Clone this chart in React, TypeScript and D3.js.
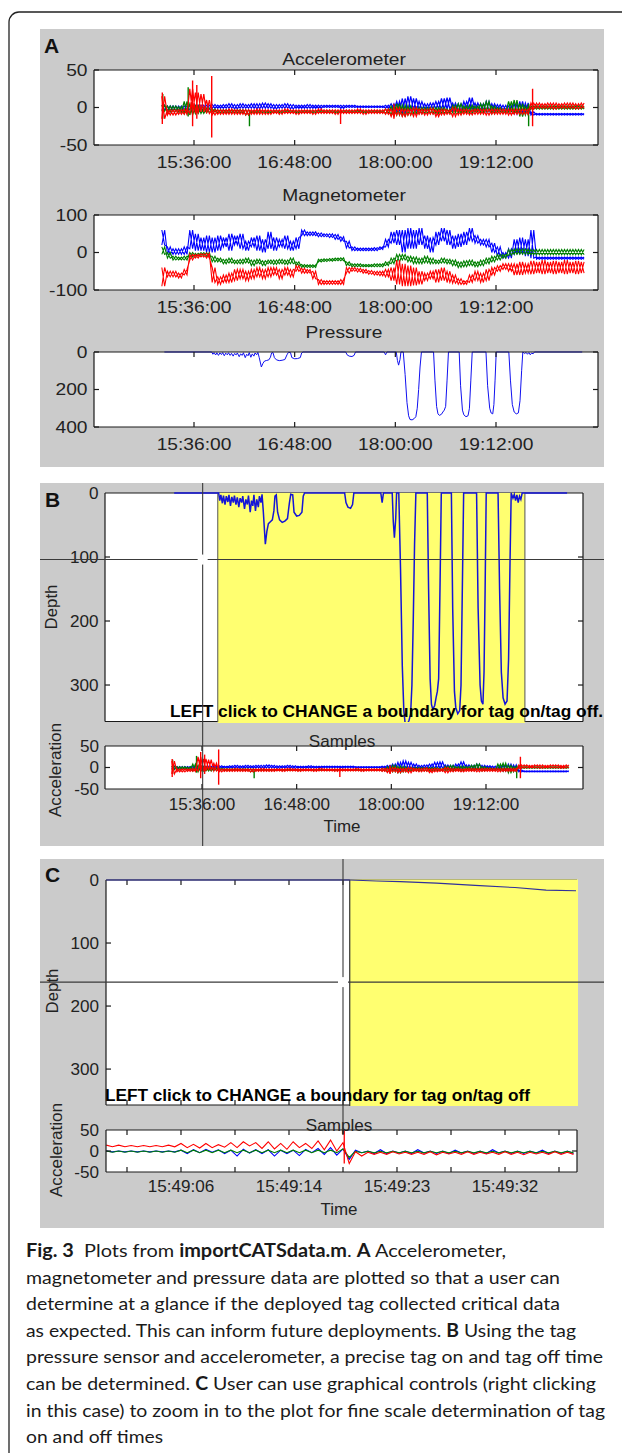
import React from "react";
import * as d3 from "d3";

const ARIAL = "'Liberation Sans', Arial, Helvetica, sans-serif";
const parseT = (s: string) => +(d3.timeParse(s.length > 5 ? "%H:%M:%S" : "%H:%M")(s) as Date);

// ---------- Panel A / B time axis ----------
const timeTickLabels = ["15:36:00", "16:48:00", "18:00:00", "19:12:00"];

// envelope grid (accelerometer + magnetometer), one sample every 4 min from 15:13
const envStart = "15:13";
const envStepMin = 4;

// Accelerometer envelopes (low / high) per 4-min step
const accBlueLo = [-3,-4,-4,-3,-3,-3,-2,-2,-2,-1, -1,-1,-1,-2,-1,-1,-1,-2,-1,-1, -2,-1,-1,-2,-1,-1,-1,-1,-1,0, 0,0,-1,0,0,0,0,0,0,0, -1,-3,-5,-8,-5,-4,-3,-3,-2,-2, -3,-2,-4,-5,-3,-3,-4,-3,-5,-4, -3,-4,-5,-8,-8,-8,-10,-10,-10,-10, -10,-10,-10,-10,-10,-10];
const accBlueHi = [3,2,2,2,2,3,3,3,3,4, 3,4,5,4,5,4,5,5,6,5, 4,4,5,4,3,3,4,3,3,3, 3,3,3,3,3,2,2,2,2,2, 3,5,8,12,15,12,8,5,6,8, 12,13,6,5,8,13,6,5,8,5, 4,3,2,5,8,6,-6,-8,-8,-8, -8,-8,-8,-8,-8,-8];
const accGreenLo = [-5,-6,-5,-6,-8,-10,-8,-8,-7,-6, -7,-7,-7,-7,-7,-10,-7,-7,-7,-7, -7,-7,-7,-7,-7,-7,-7,-7,-7,-7, -7,-7,-7,-7,-7,-7,-7,-7,-7,-7, -8,-10,-10,-12,-10,-8,-8,-8,-8,-8, -8,-8,-7,-8,-7,-8,-6,-7,-5,-8, -6,-7,-6,-8,-12,-10,-2,-2,-2,-2, -2,-2,-2,-2,-2,-2];
const accGreenHi = [3,2,2,1,8,5,2,0,-1,-2, -3,-3,-3,-3,-3,-3,-4,-4,-4,-4, -4,-4,-4,-4,-4,-4,-4,-4,-4,-4, -4,-4,-4,-4,-4,-4,-4,-4,-4,-4, -2,2,5,3,2,0,0,0,0,0, 0,-2,3,5,2,3,2,5,8,2, 0,-2,8,10,5,2,2,2,2,2, 2,2,2,2,2,2];
const accRedLo = [-15,-10,-10,-9,-9,-8,-8,-6,-8,-10, -9,-9,-9,-9,-9,-10,-9,-9,-9,-9, -8,-9,-8,-8,-9,-8,-8,-9,-8,-8, -8,-9,-8,-8,-8,-8,-9,-8,-8,-8, -9,-12,-10,-12,-10,-12,-9,-10,-9,-12, -10,-9,-12,-10,-9,-10,-9,-9,-10,-9, -9,-9,-10,-9,-9,-9,-2,-1,-1,-1, -2,-1,-1,-1,-2,-1];
const accRedHi = [15,-3,-3,-3,-2,25,20,18,10,-3, -3,-3,-2,-3,-3,-3,-3,-2,-3,-3, -3,-3,-2,-3,-3,-3,-3,-3,-2,-3, -3,-3,-3,-3,-3,-2,-3,-3,-3,-3, -2,-2,0,-2,-2,0,-2,-2,-1,-3, -2,-3,0,-2,-2,-3,-2,-2,-2,-2, -2,-2,-2,-2,-2,-2,6,6,5,6, 6,5,6,6,5,6];

// isolated accelerometer spikes: time, low, high, series (0 blue, 1 green, 2 red)
const accSpikeT = ["15:13:20", "15:13:40", "15:31:50", "15:35:00", "15:38:00", "15:48:40", "16:15:40", "17:20:50", "17:59:00", "19:35:20", "19:38:10"];
const accSpikeLo = [-22, -15, -12, -25, -15, -40, -25, -22, -15, -25, -25];
const accSpikeHi = [20, 18, 27, 36, 30, 42, -5, -2, 5, 5, 25];
const accSpikeS = [2, 1, 1, 2, 2, 2, 1, 2, 2, 1, 2];

// Magnetometer envelopes
const magBlueLo = [20,-5,-5,-5,-5,10,5,5,0,0, 5,15,5,20,10,5,15,5,0,10, 5,15,10,5,10,45,45,45,42,42, 40,35,30,12,5,5,5,5,5,8, 15,25,20,0,10,10,20,10,0,20, 30,20,10,15,20,30,25,20,15,0, -10,-15,-15,-5,-5,-10,-15,-18,-18,-18, -18,-18,-18,-18,-18,-18];
const magBlueHi = [60,15,10,10,15,60,50,40,45,40, 45,40,50,45,50,30,40,45,35,55, 40,35,45,30,40,60,55,55,52,50, 50,48,42,30,15,12,12,12,13,15, 35,55,60,60,65,60,65,45,40,55, 65,60,45,50,55,65,45,35,35,25, 15,0,10,35,40,35,60,-12,-12,-12, -12,-12,-12,-12,-12,-12];
const magGreenLo = [-5,-15,-20,-20,-20,-12,-10,-8,-10,-25, -25,-30,-28,-30,-30,-28,-35,-30,-35,-30, -32,-30,-32,-30,-35,-40,-40,-40,-25,-24, -23,-22,-22,-35,-38,-38,-38,-38,-38,-38, -35,-30,-25,-20,-25,-30,-30,-28,-30,-30, -28,-30,-35,-40,-38,-35,-38,-35,-30,-25, -20,-15,-8,-5,-5,-5,-6,-6,-6,-6, -6,-6,-6,-6,-6,-6];
const magGreenHi = [15,0,-10,-12,-10,0,-2,0,0,-10, -15,-18,-15,-20,-18,-15,-20,-18,-22,-20, -20,-18,-20,-15,-25,-32,-33,-33,-18,-17, -16,-15,-14,-25,-30,-30,-32,-32,-30,-30, -25,-15,-5,-5,-10,-12,-15,-10,-15,-20, -15,-18,-20,-25,-22,-20,-25,-20,-15,-10, -5,-5,8,10,10,10,8,8,8,8, 8,8,8,8,8,8];
const magRedLo = [-90,-65,-65,-68,-60,-20,-15,-12,-15,-80, -85,-80,-80,-75,-70,-75,-70,-65,-70,-65, -60,-70,-60,-65,-50,-55,-55,-70,-85,-85, -85,-85,-85,-55,-50,-52,-55,-58,-60,-62, -65,-75,-85,-90,-90,-88,-85,-75,-70,-80, -75,-80,-82,-85,-85,-80,-75,-80,-75,-60, -50,-45,-50,-60,-60,-55,-58,-55,-58,-55, -58,-55,-58,-55,-58,-55];
const magRedHi = [-40,-50,-50,-55,-45,-5,-5,-3,-2,-40, -65,-60,-55,-45,-45,-50,-45,-40,-45,-40, -40,-45,-40,-45,-35,-42,-45,-50,-72,-75, -75,-75,-72,-40,-40,-42,-45,-48,-50,-50, -45,-40,-20,-30,-35,-40,-50,-55,-50,-45, -40,-50,-60,-70,-75,-60,-50,-55,-45,-40, -35,-30,-30,-30,-25,-30,-22,-25,-20,-25, -22,-25,-20,-25,-22,-25];

// Pressure / depth record
const pressT = ["15:14:50","15:48:40","15:49:30","15:50:20","15:51:30","15:52:20","15:53:30","15:54:30","15:55:40","15:56:30","15:57:40","15:58:40","15:59:50","16:00:40","16:01:50","16:02:50","16:04:00","16:05:00","16:06:10","16:07:00","16:08:20","16:09:20","16:10:30","16:11:20","16:12:40","16:13:40","16:14:40","16:15:30","16:16:40","16:17:40","16:18:50","16:19:40","16:20:50","16:21:40","16:22:40","16:24:10","16:25:20","16:26:30","16:28:00","16:29:30","16:30:40","16:31:30","16:32:30","16:33:30","16:35:00","16:37:00","16:39:00","16:41:00","16:42:30","16:43:30","16:45:00","16:46:00","16:48:00","16:50:00","16:52:00","16:53:00","16:54:00","17:24:30","17:25:30","17:27:00","17:29:00","17:30:30","17:31:30","17:52:00","17:53:00","17:54:00","18:00:40","18:01:30","18:02:20","18:03:20","18:04:00","18:05:40","18:07:00","18:08:20","18:09:30","18:10:30","18:12:00","18:13:30","18:14:40","18:15:40","18:16:40","18:17:40","18:18:40","18:27:20","18:28:20","18:29:30","18:30:30","18:31:30","18:33:00","18:34:00","18:35:00","18:36:00","18:37:00","18:38:00","18:45:40","18:46:40","18:48:00","18:49:00","18:50:30","18:52:00","18:53:00","18:54:00","18:55:00","19:04:50","19:06:00","19:07:30","19:08:30","19:09:40","19:10:30","19:11:20","19:12:10","19:21:10","19:22:20","19:23:40","19:25:00","19:26:30","19:28:00","19:29:10","19:30:20","19:31:10","19:32:30","19:33:30","19:34:30","19:35:30","19:36:30","19:37:30","19:38:30","19:39:30","20:13:40"];
const pressD = [0,0,12,3,16,4,18,5,14,3,20,6,15,4,18,7,22,8,15,5,25,10,18,4,30,12,20,3,28,10,22,5,15,2,30,80,60,48,45,42,28,5,3,30,42,46,44,40,15,2,3,30,36,35,30,5,0,0,15,22,24,18,0,0,15,0,0,45,70,40,0,0,120,270,340,360,362,355,345,300,200,80,0,0,150,290,330,338,332,320,310,290,150,0,0,180,310,335,345,340,300,150,0,0,180,300,325,330,280,150,0,0,150,280,320,330,325,260,100,0,8,2,12,3,15,5,10,0,0];

// Panel B tag on / off and cursor
const tagOnB = "15:48:00";
const tagOffB = "19:41:36";
const cursorB = { t: "15:36:30", depth: 104 };

// ---------- Panel C (seconds after 15:49:00) ----------
const cTickSec = [1.667, 6, 10.333, 14.667, 19, 23.333, 27.667, 32, 36.333];
const cTickLabels = ["", "15:49:06", "", "15:49:14", "", "15:49:23", "", "15:49:32", ""];
const cDepthT = [0, 19.5, 21.7, 23.6, 26.5, 29.6, 32.8, 35.3, 37.7];
const cDepthD = [0, 0, 1.5, 2.5, 5, 8.5, 12, 16, 17];
const cTagOn = 19.54;
const cCursor = { t: 19.0, depth: 162 };
const cAccStart = 0;
const cAccStep = 1;
const cRedLo = [10,10,10,10,10,10,8,7,8,9, 8,12,6,5,4,8,6,3,0,-30, -12,-8,-8,-7,-8,-8,-9,-7,-8,-8, -7,-8,-8,-9,-7,-8,-8,-8];
const cRedHi = [14,14,13,13,13,14,18,16,18,15, 20,22,20,22,18,22,18,24,26,20, -2,-3,-3,-2,-3,-3,-2,-3,-3,-2, -3,-3,-2,-3,-3,-3,-2,-3];
const cGreenLo = [-3,-3,-3,-3,-3,-3,-4,-4,-4,-4, -4,-4,-4,-4,-4,-4,-4,-4,-4,-15, -4,-4,-4,-4,-4,-4,-4,-4,-4,-4, -4,-4,-4,-4,-4,-4,-4,-4];
const cGreenHi = [0,0,0,0,0,0,2,2,2,2, 2,2,2,2,2,2,2,2,2,5, -1,-1,-1,-1,-1,-1,-1,-1,-1,-1, -1,-1,-1,-1,-1,-1,-1,-1];
const cBlueLo = [-2,-2,-2,-2,-2,-2,-6,-4,-3,-6, -12,-5,-6,-12,-6,-11,-4,-8,-10,-20, -4,-6,-6,-5,-6,-5,-6,-6,-5,-6, -6,-5,-6,-6,-5,-6,-6,-6];
const cBlueHi = [0,0,0,0,0,0,2,3,4,3, 2,4,3,3,2,2,4,6,8,5, 2,0,3,0,0,3,0,0,2,0, 0,3,0,0,0,2,0,0];
const cSpikeT = [19.1];
const cSpikeLo = [-30];
const cSpikeHi = [48];

const COLORS = ["#0000ff", "#008000", "#ff0000"];

// ---------- caption ----------
const captionLines: [string, boolean][][] = [
  [["Fig. 3", true], ["\u00a0 Plots from ", false], ["importCATSdata.m", true], [". ", false], ["A", true], [" Accelerometer,", false]],
  [["magnetometer and pressure data are plotted so that a user can", false]],
  [["determine at a glance if the deployed tag collected critical data", false]],
  [["as expected. This can inform future deployments. ", false], ["B", true], [" Using the tag", false]],
  [["pressure sensor and accelerometer, a precise tag on and tag off time", false]],
  [["can be determined. ", false], ["C", true], [" User can use graphical controls (right clicking", false]],
  [["in this case) to zoom in to the plot for fine scale determination of tag", false]],
  [["on and off times", false]],
];
const captionWidths = [480, 534, 534, 550, 577, 570, 579, 137];

// ---------- helpers ----------
// draws an envelope as saw-tooth traces (dense-signal look); "cross" adds the mirrored trace
function zig(ts: number[], lo: number[], hi: number[], half: number, x: (v: number) => number, y: (v: number) => number, cross = true) {
  const a: [number, number][] = [];
  const b: [number, number][] = [];
  ts.forEach((t, i) => {
    a.push([x(t), y(hi[i])]);
    a.push([x(t + half), y(lo[i])]);
    b.push([x(t), y(lo[i])]);
    b.push([x(t + half), y(hi[i])]);
  });
  return (d3.line()(a) || "") + (cross ? d3.line()(b) || "" : "");
}

function Txt({ x, y, sx = 1, size = 16, anchor = "middle", weight = 400, fill = "#222", rotate = 0, family = ARIAL, children, tl }: any) {
  return (
    <text
      transform={`translate(${x},${y}) rotate(${rotate}) scale(${sx},1)`}
      textAnchor={anchor}
      fontSize={size}
      fontWeight={weight}
      fill={fill}
      fontFamily={family}
      textLength={tl}
      lengthAdjust={tl ? "spacingAndGlyphs" : undefined}
    >
      {children}
    </text>
  );
}

function BoxFrame({ x0, x1, y0, y1, xt = [], yt = [], len = 5, sides = "tblr" }: any) {
  const s = "#1a1a1a";
  return (
    <g stroke={s} strokeWidth={1.2} fill="none">
      {sides.includes("t") && <line x1={x0} x2={x1} y1={y0} y2={y0} />}
      {sides.includes("b") && <line x1={x0} x2={x1} y1={y1} y2={y1} />}
      {sides.includes("l") && <line x1={x0} x2={x0} y1={y0} y2={y1} />}
      {sides.includes("r") && <line x1={x1} x2={x1} y1={y0} y2={y1} />}
      {xt.map((x: number, i: number) => (
        <g key={"x" + i}>
          <line x1={x} x2={x} y1={y0} y2={y0 + len} />
          <line x1={x} x2={x} y1={y1} y2={y1 - len} />
        </g>
      ))}
      {yt.map((y: number, i: number) => (
        <g key={"y" + i}>
          {sides.includes("l") && <line x1={x0} x2={x0 + len} y1={y} y2={y} />}
          {sides.includes("r") && <line x1={x1} x2={x1 - len} y1={y} y2={y} />}
        </g>
      ))}
    </g>
  );
}

export default function App() {
  const W = 622, H = 1453;
  const envT = accBlueLo.map((_, i) => parseT(envStart) + i * envStepMin * 60000);
  const halfEnv = (envStepMin * 60000) / 2;
  const tickTimes = timeTickLabels.map(parseT);

  const xA = d3.scaleTime().domain([parseT("15:36"), parseT("19:12")]).range([194, 496]);
  const xB = d3.scaleTime().domain([parseT("15:36"), parseT("19:12")]).range([202, 486]);
  const xC = d3.scaleLinear().domain([cTickSec[0], cTickSec[8]]).range([127, 559]);

  const A = { x0: 94, x1: 598 };
  const yAcc = d3.scaleLinear().domain([-50, 50]).range([145, 70]);
  const yMag = d3.scaleLinear().domain([-100, 100]).range([290, 215]);
  const yPres = d3.scaleLinear().domain([0, 400]).range([352, 427]);

  const B = { x0: 105, x1: 583 };
  const yBd = d3.scaleLinear().domain([0, 357]).range([493, 721.5]);
  const yBa = d3.scaleLinear().domain([-50, 50]).range([789, 746]);

  const C = { x0: 106, x1: 577 };
  const yCd = d3.scaleLinear().domain([0, 357]).range([880, 1105]);
  const yCa = d3.scaleLinear().domain([-50, 50]).range([1172, 1130]);

  const accSeries = [
    { lo: accBlueLo, hi: accBlueHi },
    { lo: accGreenLo, hi: accGreenHi },
    { lo: accRedLo, hi: accRedHi },
  ];
  const magSeries = [
    { lo: magBlueLo, hi: magBlueHi },
    { lo: magGreenLo, hi: magGreenHi },
    { lo: magRedLo, hi: magRedHi },
  ];
  const cSeries = [
    { lo: cBlueLo, hi: cBlueHi },
    { lo: cGreenLo, hi: cGreenHi },
    { lo: cRedLo, hi: cRedHi },
  ];
  const cT = cBlueLo.map((_, i) => cAccStart + i * cAccStep);

  const pressPts = pressT.map((t, i) => [parseT(t), pressD[i]] as [number, number]);
  const cDepthPts = cDepthT.map((t, i) => [t, cDepthD[i]] as [number, number]);

  const accLayer = (x: any, y: any, sw: number) =>
    accSeries.map((s, k) => (
      <g key={k} stroke={COLORS[k]} fill="none" strokeWidth={sw}>
        <path d={zig(envT, s.lo, s.hi, halfEnv, x, y)} />
        {accSpikeT.map((t, j) =>
          accSpikeS[j] === k ? (
            <line key={j} x1={x(parseT(t))} x2={x(parseT(t))} y1={y(accSpikeLo[j])} y2={y(accSpikeHi[j])} strokeWidth={1.4} />
          ) : null
        )}
      </g>
    ));

  const fmtAxisNum = (v: number) => (v < 0 ? "-" + Math.abs(v) : String(v));

  // panel A subplots
  const subA = (key: string, y: any, yVals: number[], title: string, titleY: number, content: any) => {
    const [r0, r1] = y.range();
    const top = Math.min(r0, r1), bot = Math.max(r0, r1);
    return (
      <g key={key}>
        <rect x={A.x0} y={top} width={A.x1 - A.x0} height={bot - top} fill="#fff" />
        <clipPath id={"clip" + key}>
          <rect x={A.x0} y={top - 1} width={A.x1 - A.x0} height={bot - top + 2} />
        </clipPath>
        <g clipPath={`url(#clip${key})`}>{content}</g>
        <BoxFrame x0={A.x0} x1={A.x1} y0={top} y1={bot} xt={tickTimes.map(xA)} yt={yVals.map(y)} />
        {yVals.map((v) => (
          <Txt key={v} x={87.5} y={y(v) + 5.7} anchor="end" sx={1.2}>{fmtAxisNum(v)}</Txt>
        ))}
        {tickTimes.map((t, i) => (
          <Txt key={i} x={xA(t)} y={bot + 22.5} sx={1.2}>{timeTickLabels[i]}</Txt>
        ))}
        <Txt x={344} y={titleY} sx={1.2}>{title}</Txt>
      </g>
    );
  };

  const cursorBx = xB(parseT(cursorB.t));
  const cursorBy = yBd(cursorB.depth);
  const yOnB = xB(parseT(tagOnB));
  const yOffB = xB(parseT(tagOffB));
  const cCx = xC(cCursor.t);
  const cCy = yCd(cCursor.depth);
  const cOn = xC(cTagOn);

  return (
    <svg width={W} height={H} style={{ position: "absolute", left: 0, top: 0, background: "#fff" }}>
      <rect width={W} height={H} fill="#fff" />
      <path d="M9,1453 L9,22 A10,10 0 0 1 19,12 L622,12" fill="none" stroke="#222" strokeWidth={1.3} />

      {/* ================= Panel A ================= */}
      <rect x={40} y={29} width={564} height={438} fill="#cbcbcb" />
      <Txt x={44} y={53} anchor="start" size={21} weight={700} fill="#111">A</Txt>
      {subA("acc", yAcc, [-50, 0, 50], "Accelerometer", 65, accLayer(xA, yAcc, 1.2))}
      {subA(
        "mag",
        yMag,
        [-100, 0, 100],
        "Magnetometer",
        201,
        magSeries.map((s, k) => (
          <path key={k} d={zig(envT, s.lo, s.hi, halfEnv, xA, yMag)} stroke={COLORS[k]} fill="none" strokeWidth={1.1} />
        ))
      )}
      {subA(
        "pres",
        yPres,
        [0, 200, 400],
        "Pressure",
        338,
        <path d={d3.line().x((d) => xA(d[0])).y((d) => yPres(d[1]))(pressPts) || ""} stroke="#1010f0" fill="none" strokeWidth={1} />
      )}

      {/* ================= Panel B ================= */}
      <rect x={40} y={483} width={564} height={363} fill="#cbcbcb" />
      <rect x={B.x0} y={493} width={B.x1 - B.x0} height={228.5} fill="#fff" />
      <BoxFrame x0={B.x0} x1={B.x1} y0={493} y1={721.5} xt={[]} yt={[100, 200, 300].map(yBd)} />
      <rect x={yOnB} y={493} width={yOffB - yOnB} height={230} fill="#ffff70" />
      <g stroke="#555" strokeWidth={1}>
        <line x1={yOnB} x2={yOnB} y1={493} y2={722} />
        <line x1={yOffB} x2={yOffB} y1={493} y2={722} />
      </g>
      <clipPath id="clipBd">
        <rect x={B.x0} y={491} width={B.x1 - B.x0} height={231} />
      </clipPath>
      <path
        clipPath="url(#clipBd)"
        d={d3.line().x((d) => xB(d[0])).y((d) => yBd(d[1]))(pressPts) || ""}
        stroke="#1414d8"
        fill="none"
        strokeWidth={1.5}
      />
      {[0, 100, 200, 300].map((v) => (
        <Txt key={v} x={98.5} y={yBd(v) + 5.7} anchor="end" sx={1.07}>{v}</Txt>
      ))}
      <Txt x={57} y={607} rotate={-90} sx={1.05}>Depth</Txt>
      <Txt x={45} y={507} anchor="start" size={21} weight={700} fill="#111">B</Txt>

      <rect x={B.x0} y={746} width={B.x1 - B.x0} height={43} fill="#fff" />
      <clipPath id="clipBa">
        <rect x={B.x0} y={746} width={B.x1 - B.x0} height={43} />
      </clipPath>
      <g clipPath="url(#clipBa)">{accLayer(xB, yBa, 1.2)}</g>
      <BoxFrame x0={B.x0} x1={B.x1} y0={746} y1={789} xt={tickTimes.map(xB)} yt={[yBa(0)]} />
      {[50, 0, -50].map((v) => (
        <Txt key={v} x={99} y={yBa(v) + 5.7} anchor="end" sx={1.07}>{fmtAxisNum(v)}</Txt>
      ))}
      {tickTimes.map((t, i) => (
        <Txt key={i} x={xB(t)} y={810} sx={1.07}>{timeTickLabels[i]}</Txt>
      ))}
      <Txt x={342} y={832} sx={1.06}>Time</Txt>
      <Txt x={342} y={747} sx={1.07}>Samples</Txt>
      <Txt x={61} y={770} rotate={-90} sx={1.07}>Acceleration</Txt>

      {/* crosshair B */}
      <g stroke="#3a3a3a" strokeWidth={1.1}>
        <line x1={40} x2={604} y1={cursorBy} y2={cursorBy} />
        <line x1={cursorBx} x2={cursorBx} y1={483} y2={846} />
      </g>
      <g stroke="#fff" strokeWidth={2.5}>
        <line x1={cursorBx - 5} x2={cursorBx + 5} y1={cursorBy} y2={cursorBy} />
        <line x1={cursorBx} x2={cursorBx} y1={cursorBy - 5} y2={cursorBy + 5} />
      </g>
      <Txt x={170} y={717} anchor="start" size={16} weight={700} fill="#000" tl={433}>
        LEFT click to CHANGE a boundary for tag on/tag off.
      </Txt>

      {/* ================= Panel C ================= */}
      <rect x={40} y={859} width={564} height={369} fill="#cbcbcb" />
      <rect x={C.x0} y={880} width={C.x1 - C.x0} height={225} fill="#fff" />
      <BoxFrame x0={C.x0} x1={C.x1} y0={880} y1={1105} xt={cTickSec.map(xC)} yt={[100, 200, 300].map(yCd)} />
      <rect x={cOn} y={879.5} width={C.x1 - cOn + 1} height={226.5} fill="#ffff70" />
      <line x1={cOn} x2={cOn} y1={880} y2={1106} stroke="#333" strokeWidth={1.2} />
      <path
        d={d3.line().x((d) => xC(d[0])).y((d) => yCd(d[1]))(cDepthPts) || ""}
        stroke="#30309a"
        fill="none"
        strokeWidth={1.1}
      />
      {[0, 100, 200, 300].map((v) => (
        <Txt key={v} x={99} y={yCd(v) + 5.7} anchor="end" sx={1.07}>{v}</Txt>
      ))}
      <Txt x={58} y={991} rotate={-90} sx={1.05}>Depth</Txt>
      <Txt x={45} y={882} anchor="start" size={21} weight={700} fill="#111">C</Txt>

      <rect x={C.x0} y={1130} width={C.x1 - C.x0} height={42} fill="#fff" />
      <clipPath id="clipCa">
        <rect x={C.x0} y={1130} width={C.x1 - C.x0} height={42} />
      </clipPath>
      <g clipPath="url(#clipCa)">
        {cSeries.map((s, k) => (
          <path key={k} d={zig(cT, s.lo, s.hi, cAccStep / 2, xC, yCa, false)} stroke={COLORS[k]} fill="none" strokeWidth={1.1} />
        ))}
        {cSpikeT.map((t, j) => (
          <line key={j} x1={xC(t)} x2={xC(t)} y1={yCa(cSpikeLo[j])} y2={yCa(cSpikeHi[j])} stroke={COLORS[2]} strokeWidth={1.3} />
        ))}
      </g>
      <BoxFrame x0={C.x0} x1={C.x1} y0={1130} y1={1172} xt={cTickSec.map(xC)} yt={[yCa(0)]} />
      {[50, 0, -50].map((v) => (
        <Txt key={v} x={99} y={yCa(v) + 5.7} anchor="end" sx={1.07}>{fmtAxisNum(v)}</Txt>
      ))}
      {cTickSec.map((t, i) =>
        cTickLabels[i] ? (
          <Txt key={i} x={xC(t)} y={1192} sx={1.07}>{cTickLabels[i]}</Txt>
        ) : null
      )}
      <Txt x={339} y={1215} sx={1.06}>Time</Txt>
      <Txt x={339} y={1131} sx={1.07}>Samples</Txt>
      <Txt x={62} y={1150} rotate={-90} sx={1.07}>Acceleration</Txt>

      {/* crosshair C */}
      <g stroke="#3a3a3a" strokeWidth={1.1}>
        <line x1={40} x2={604} y1={cCy} y2={cCy} />
        <line x1={cCx} x2={cCx} y1={859} y2={1130} />
      </g>
      <g stroke="#fff" strokeWidth={2.5}>
        <line x1={cCx - 5} x2={cCx + 5} y1={cCy} y2={cCy} />
        <line x1={cCx} x2={cCx} y1={cCy - 5} y2={cCy + 5} />
      </g>
      <Txt x={105} y={1101} anchor="start" size={16} weight={700} fill="#000" tl={425}>
        LEFT click to CHANGE a boundary for tag on/tag off
      </Txt>

      {/* ================= Caption ================= */}
      {captionLines.map((segs, i) => (
        <text
          key={i}
          x={26}
          y={1257 + i * 26.6}
          fontFamily="Lato, 'Open Sans', sans-serif"
          fontSize={18}
          fill="#1a1a1a"
          textLength={captionWidths[i]}
          lengthAdjust="spacingAndGlyphs"
        >
          {segs.map(([s, b], j) => (
            <tspan key={j} fontWeight={b ? 700 : 400}>{s}</tspan>
          ))}
        </text>
      ))}
    </svg>
  );
}
